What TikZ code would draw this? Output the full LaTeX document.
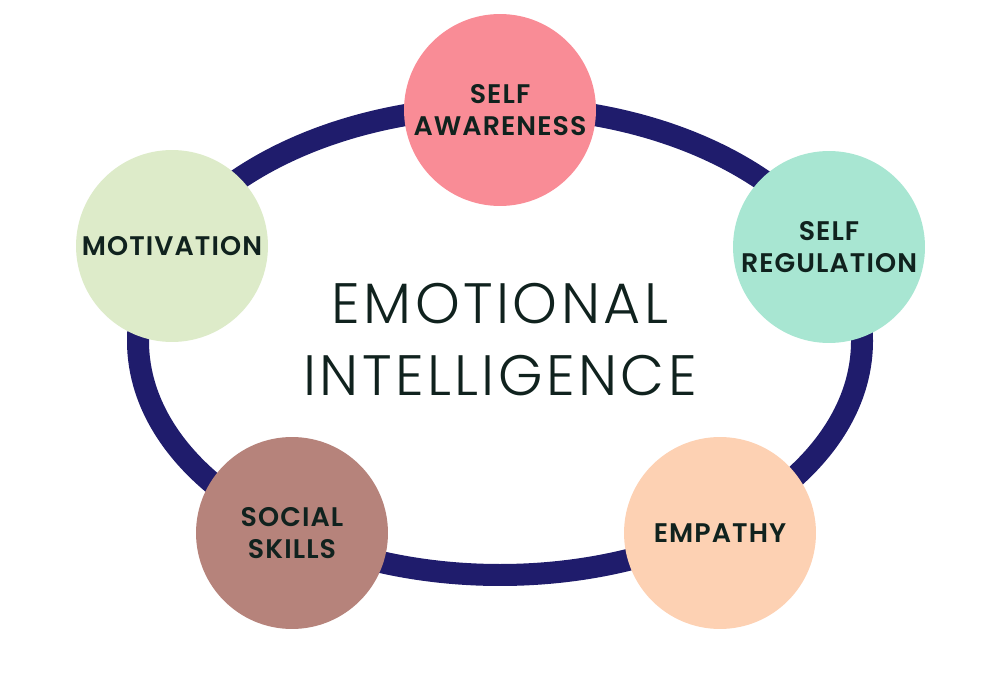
\documentclass[tikz,border=0pt]{standalone}
\usepackage{fontspec}
\setmainfont{Poppins}
\newfontfamily\titlefont{Poppins Light}[LetterSpace=6]
\newfontfamily\labelfont{Poppins SemiBold}[LetterSpace=4]

\definecolor{ring}{HTML}{1F1C6C}
\definecolor{inkdark}{HTML}{10221E}
\definecolor{pinkfill}{HTML}{F98C96}
\definecolor{mintfill}{HTML}{A8E6D2}
\definecolor{sagefill}{HTML}{DDEBC9}
\definecolor{mauvefill}{HTML}{B6837B}
\definecolor{peachfill}{HTML}{FDD1B3}

\begin{document}
\begin{tikzpicture}[x=0.02cm, y=-0.02cm,
    skill/.style={circle, minimum size=3.84cm, inner sep=0pt, align=center,
        text=inkdark, font=\labelfont\fontsize{15.3}{17.8}\selectfont}]

    \useasboundingbox (0, 0) rectangle (1000, 688);

    % the ring
    \draw [line width=0.44cm, color=ring] (500, 341) ellipse [x radius=362, y radius=234];

    \node (title) at (500, 340) [align=center, text=inkdark,
        font=\titlefont\fontsize{32.4}{41}\selectfont] {EMOTIONAL\\INTELLIGENCE};

    % the five parts
    \node (aware) at (500, 110) [skill, fill=pinkfill] {SELF\\AWARENESS};
    \node (regul) at (829, 247) [skill, fill=mintfill] {SELF\\REGULATION};
    \node (motiv) at (172, 246) [skill, fill=sagefill] {MOTIVATION};
    \node (social) at (292, 533) [skill, fill=mauvefill] {SOCIAL\\SKILLS};
    \node (empathy) at (720, 533) [skill, fill=peachfill] {EMPATHY};

\end{tikzpicture}
\end{document}
